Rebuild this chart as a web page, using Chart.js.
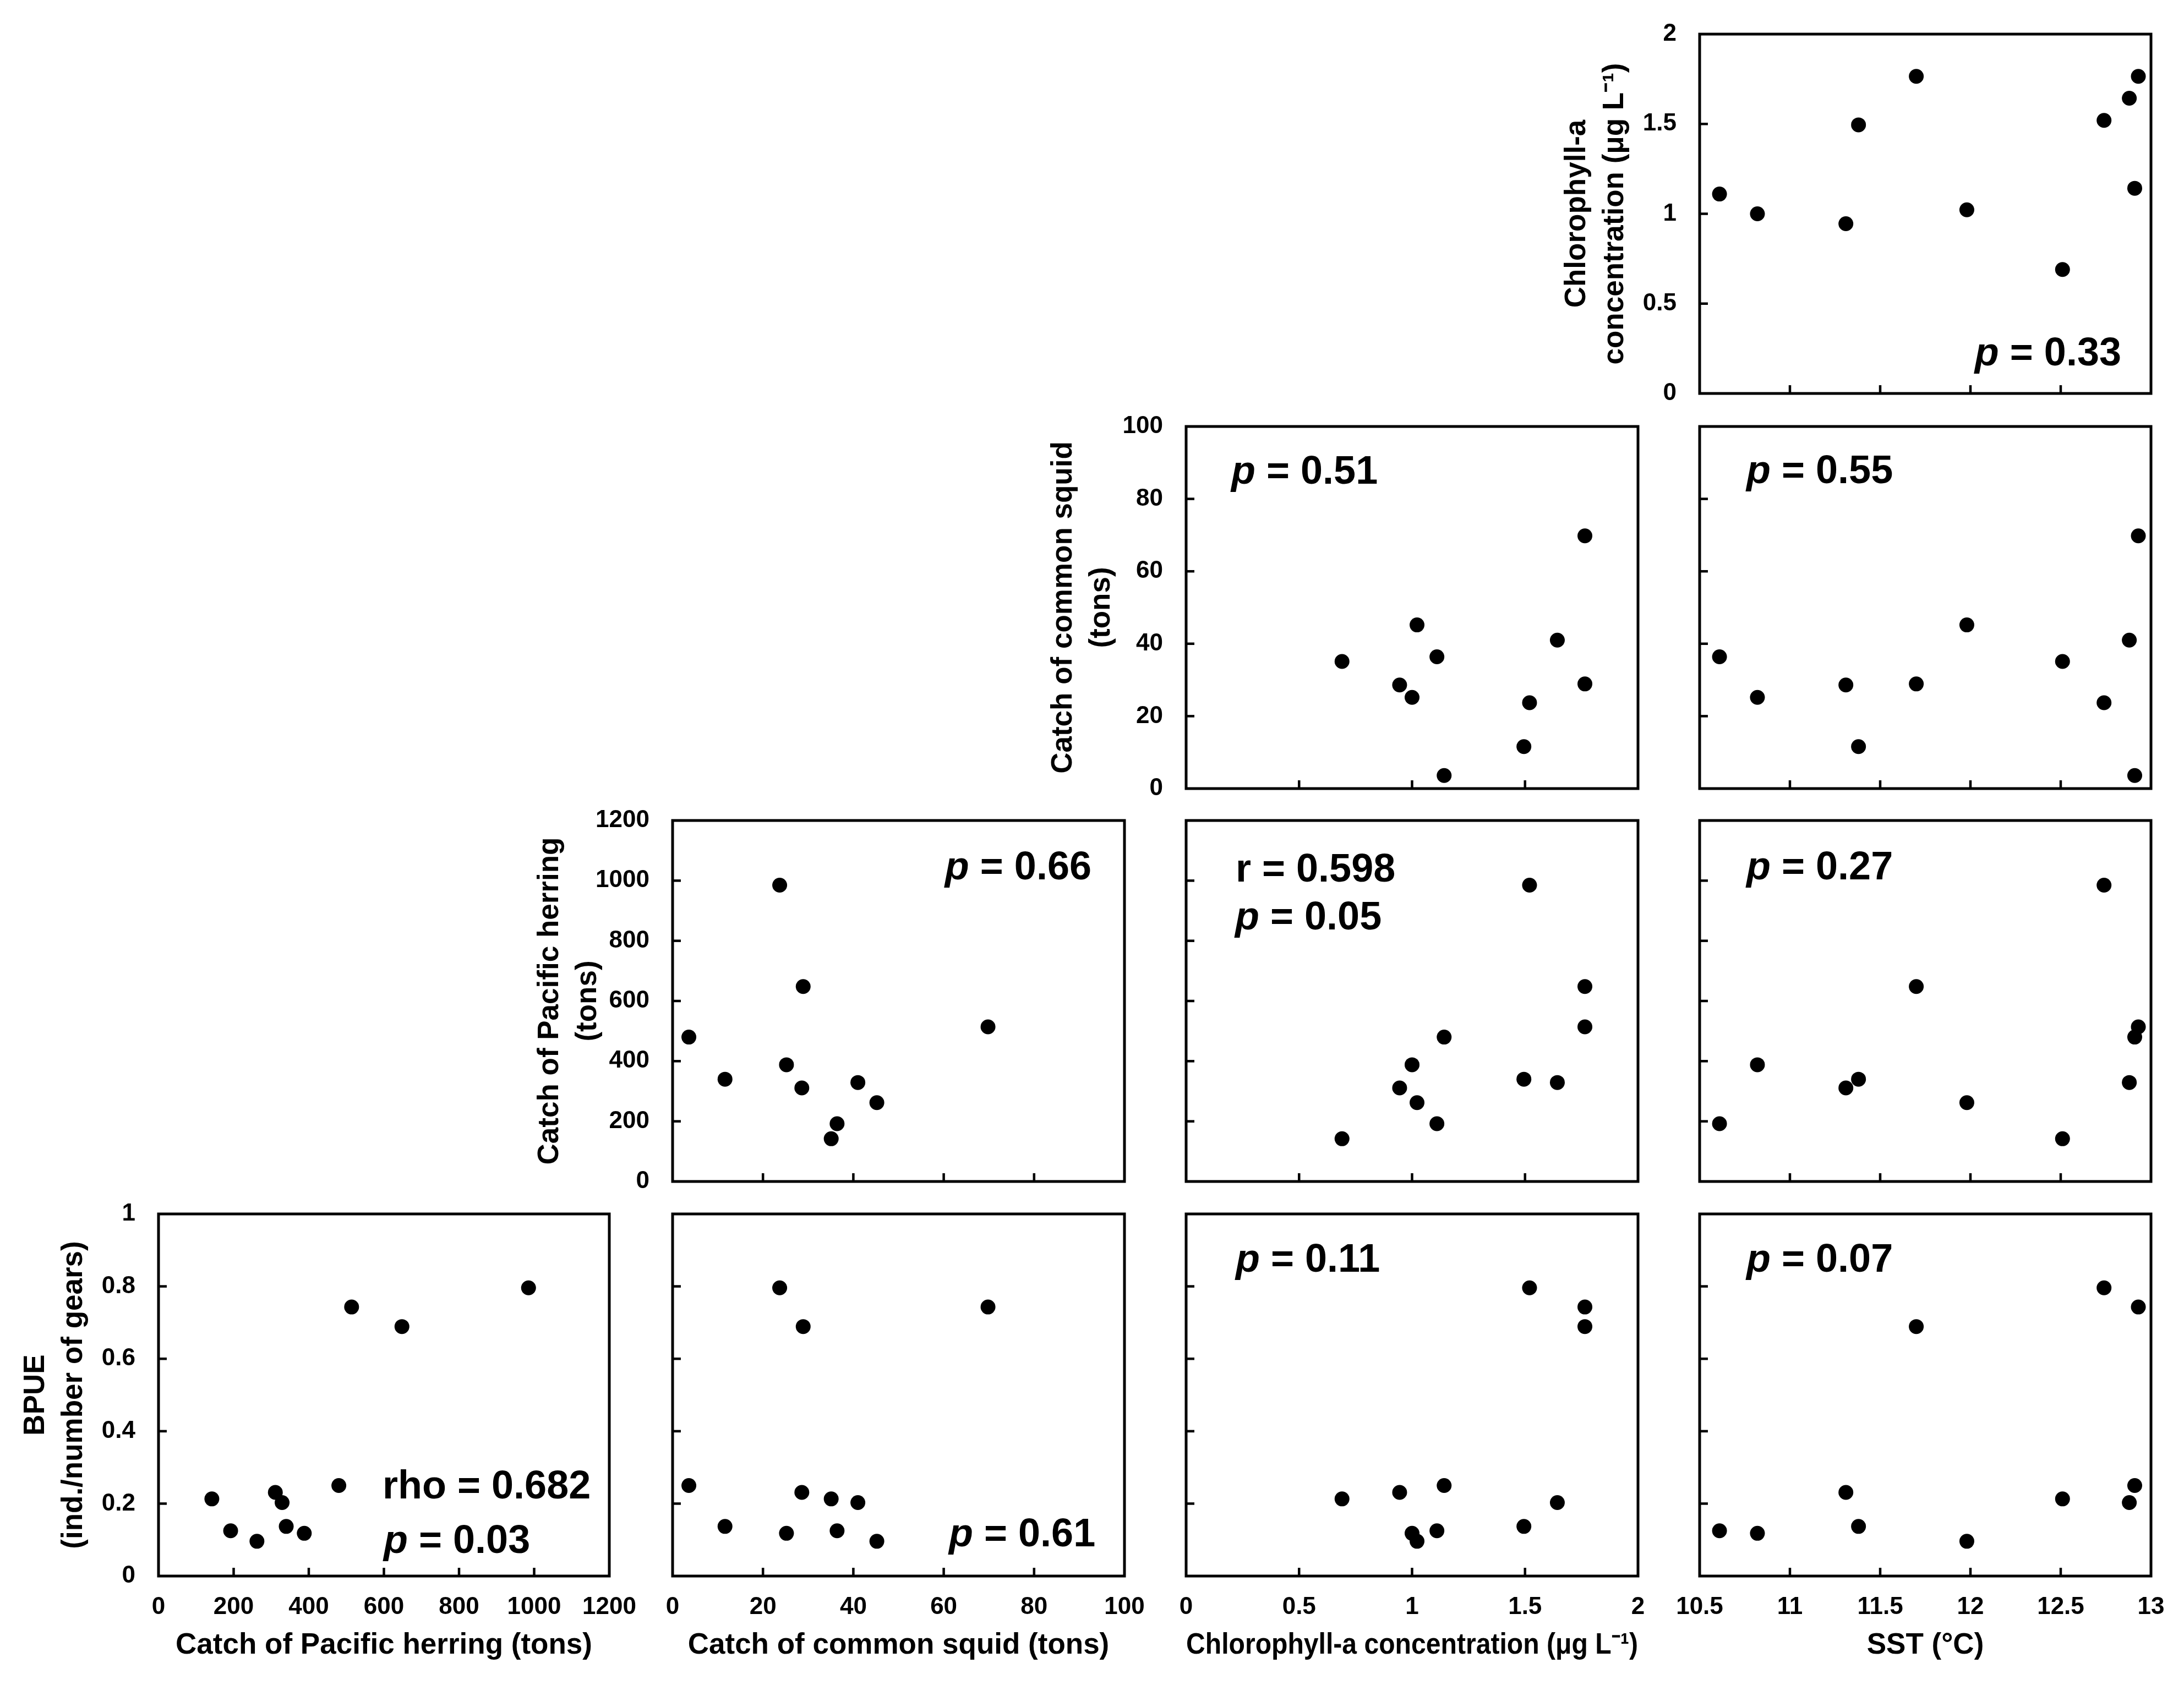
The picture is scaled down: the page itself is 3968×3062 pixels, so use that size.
<!DOCTYPE html>
<html>
<head>
<meta charset="utf-8">
<script src="https://cdn.jsdelivr.net/npm/chart.js@4.4.1/dist/chart.umd.min.js"></script>
<style>
html, body { margin: 0; padding: 0; background: #ffffff; overflow: hidden; }
#wrap { position: relative; width: 3968px; height: 3062px; background: #ffffff; }
#wrap canvas { position: absolute; }
</style>
</head>
<body>
<div id="wrap"></div>
<script>
const sstValues     = [10.61, 10.82, 11.31, 11.38, 11.70, 11.98, 12.51, 12.74, 12.88, 12.91, 12.93];
const chlValues     = [1.11, 1.00, 0.945, 1.495, 1.765, 1.022, 0.69, 1.52, 1.643, 1.142, 1.765];
const squidValues   = [36.4, 25.2, 28.6, 11.6, 28.9, 45.2, 35.1, 23.7, 41.0, 3.6, 69.8];
const herringValues = [192, 388, 311, 340, 648, 262, 142, 985, 329, 480, 514];
const bpueValues    = [0.125, 0.118, 0.231, 0.137, 0.689, 0.096, 0.213, 0.796, 0.203, 0.250, 0.743];

// ---- Tick labels ----
const herringTickLabels = ['0', '200', '400', '600', '800', '1000', '1200'];
const squidTickLabels   = ['0', '20', '40', '60', '80', '100'];
const chlTickLabels     = ['0', '0.5', '1', '1.5', '2'];
const sstTickLabels     = ['10.5', '11', '11.5', '12', '12.5', '13'];
const bpueTickLabels    = ['0', '0.2', '0.4', '0.6', '0.8', '1'];

// ---- Statistics text per panel ([upright, italic, upright]) ----
const statTexts = {
  'chl-sst':       [['', 'p', ' = 0.33']],
  'squid-chl':     [['', 'p', ' = 0.51']],
  'squid-sst':     [['', 'p', ' = 0.55']],
  'herring-squid': [['', 'p', ' = 0.66']],
  'herring-chl':   [['r = 0.598', '', ''], ['', 'p', ' = 0.05']],
  'herring-sst':   [['', 'p', ' = 0.27']],
  'bpue-herring':  [['rho = 0.682', '', ''], ['', 'p', ' = 0.03']],
  'bpue-squid':    [['', 'p', ' = 0.61']],
  'bpue-chl':      [['', 'p', ' = 0.11']],
  'bpue-sst':      [['', 'p', ' = 0.07']]
};

const variables = {
  herring: { values: herringValues, ticks: herringTickLabels,
             xTitle: 'Catch of Pacific herring (tons)', yTitle: ['Catch of Pacific herring', '(tons)'] },
  squid:   { values: squidValues, ticks: squidTickLabels,
             xTitle: 'Catch of common squid (tons)', yTitle: ['Catch of common squid', '(tons)'] },
  chl:     { values: chlValues, ticks: chlTickLabels,
             xTitle: 'Chlorophyll-a concentration (\u03BCg L\u207B\u00B9)', yTitle: ['Chlorophyll-a', 'concentration (\u03BCg L\u207B\u00B9)'] },
  sst:     { values: sstValues, ticks: sstTickLabels, xTitle: 'SST (\u00B0C)', yTitle: ['SST (\u00B0C)'] },
  bpue:    { values: bpueValues, ticks: bpueTickLabels,
             xTitle: 'BPUE', yTitle: ['BPUE', '(ind./number of gears)'] }
};

const colVars = ['herring', 'squid', 'chl', 'sst'];
const rowVars = ['chl', 'squid', 'herring', 'bpue'];

// ---- Layout (frame boxes in page pixels) ----
const colLeft = [288, 1222, 2155, 3088];
const colWidth = [819, 821, 821, 820];
const rowTop = [62, 775, 1491, 2206];
const rowHeight = [653, 658, 656, 658];
const ML = 280, MR = 60, MT = 50, MB = 190;

// annotation placement (offsets from the frame)
const notePlacement = {
  'chl-sst':       [{h: 'right', dx: -54, dy: 602}],
  'squid-chl':     [{h: 'left', dx: 82, dy: 104}],
  'squid-sst':     [{h: 'left', dx: 85, dy: 103}],
  'herring-squid': [{h: 'right', dx: -60, dy: 107}],
  'herring-chl':   [{h: 'left', dx: 90, dy: 111}, {h: 'left', dx: 89, dy: 198}],
  'herring-sst':   [{h: 'left', dx: 85, dy: 107}],
  'bpue-herring':  [{h: 'left', dx: 407, dy: 517}, {h: 'left', dx: 409, dy: 616}],
  'bpue-squid':    [{h: 'left', dx: 502, dy: 604}],
  'bpue-chl':      [{h: 'left', dx: 90, dy: 105}],
  'bpue-sst':      [{h: 'left', dx: 85, dy: 105}]
};

const FONT = '"Liberation Sans", Arial, Helvetica, sans-serif';

function axisOptions(varKey, isX, showLabels, showTitle) {
  const v = variables[varKey];
  const labels = v.ticks;
  const vals = labels.map(Number);
  return {
    type: 'linear',
    position: isX ? 'bottom' : 'left',
    min: vals[0],
    max: vals[vals.length - 1],
    afterBuildTicks: (s) => { s.ticks = vals.map(x => ({ value: x })); },
    afterFit: (s) => {
      if (isX) s.height = MB; else s.width = ML;
      s.paddingLeft = 0; s.paddingRight = 0; s.paddingTop = 0; s.paddingBottom = 0;
    },
    grid: { display: false, drawTicks: false },
    border: { display: false },
    ticks: {
      display: showLabels,
      autoSkip: false, maxRotation: 0, minRotation: 0,
      padding: isX ? 30 : 42,
      color: '#000',
      font: { family: FONT, size: 44, weight: 'bold', lineHeight: 1.2 },
      callback: (val, i) => labels[i]
    },
    title: {
      display: showTitle,
      text: isX ? v.xTitle : v.yTitle,
      color: '#000',
      font: { family: FONT, size: 53, weight: 'bold', lineHeight: 1.3 },
      padding: isX ? { top: 0, bottom: 29 } : { top: 23, bottom: 0 }
    }
  };
}

function makeDecorPlugin(key) {
  return {
    id: 'decor_' + key.replace('-', '_'),
    afterDatasetsDraw(chart) {
      const ctx = chart.ctx;
      const a = chart.chartArea;
      const xs = chart.scales.x, ys = chart.scales.y;
      ctx.save();
      ctx.strokeStyle = '#000';
      ctx.lineCap = 'butt';
      // inner tick marks
      ctx.lineWidth = 4.5;
      xs.ticks.forEach((t, i) => {
        if (i === 0 || i === xs.ticks.length - 1) return;
        const px = xs.getPixelForValue(t.value);
        ctx.beginPath(); ctx.moveTo(px, a.bottom); ctx.lineTo(px, a.bottom - 15); ctx.stroke();
      });
      ys.ticks.forEach((t, i) => {
        if (i === 0 || i === ys.ticks.length - 1) return;
        const py = ys.getPixelForValue(t.value);
        ctx.beginPath(); ctx.moveTo(a.left, py); ctx.lineTo(a.left + 15, py); ctx.stroke();
      });
      // frame
      ctx.lineWidth = 5;
      ctx.lineJoin = 'miter';
      ctx.strokeRect(a.left, a.top, a.right - a.left, a.bottom - a.top);
      // statistics text
      const lines = statTexts[key] || [];
      const place = notePlacement[key] || [];
      ctx.fillStyle = '#000';
      ctx.textBaseline = 'alphabetic';
      ctx.textAlign = 'left';
      const fUp = 'bold 72px ' + FONT;
      const fIt = 'italic bold 72px ' + FONT;
      lines.forEach((parts, li) => {
        const pl = place[li];
        const segs = [[parts[0], fUp], [parts[1], fIt], [parts[2], fUp]].filter(s => s[0]);
        let total = 0;
        segs.forEach(s => { ctx.font = s[1]; total += ctx.measureText(s[0]).width; });
        let x = pl.h === 'left' ? a.left + pl.dx : a.right + pl.dx - total;
        const y = a.top + pl.dy;
        segs.forEach(s => { ctx.font = s[1]; ctx.fillText(s[0], x, y); x += ctx.measureText(s[0]).width; });
      });
      ctx.restore();
    }
  };
}

const wrap = document.getElementById('wrap');
for (let r = 0; r < 4; r++) {
  for (let c = 3 - r; c < 4; c++) {
    const xKey = colVars[c], yKey = rowVars[r];
    const key = yKey + '-' + xKey;
    const w = colWidth[c] + ML + MR, h = rowHeight[r] + MT + MB;
    const cv = document.createElement('canvas');
    cv.width = w; cv.height = h;
    cv.style.left = (colLeft[c] - ML) + 'px';
    cv.style.top = (rowTop[r] - MT) + 'px';
    cv.style.width = w + 'px'; cv.style.height = h + 'px';
    wrap.appendChild(cv);
    const xVals = variables[xKey].values, yVals = variables[yKey].values;
    const showX = r === 3;
    const showY = c === 3 - r;
    new Chart(cv.getContext('2d'), {
      type: 'scatter',
      data: {
        datasets: [{
          data: xVals.map((xv, i) => ({ x: xv, y: yVals[i] })),
          backgroundColor: '#000', borderColor: '#000', borderWidth: 0,
          pointRadius: 13.5, pointHoverRadius: 13.5, clip: false
        }]
      },
      options: {
        responsive: false, animation: false, devicePixelRatio: 1,
        events: [],
        layout: { autoPadding: false, padding: { left: 0, right: MR, top: MT, bottom: 0 } },
        plugins: { legend: { display: false }, tooltip: { enabled: false } },
        scales: {
          x: axisOptions(xKey, true, showX, showX),
          y: axisOptions(yKey, false, showY, showY)
        }
      },
      plugins: [makeDecorPlugin(key)]
    });
  }
}
</script>
</body>
</html>
